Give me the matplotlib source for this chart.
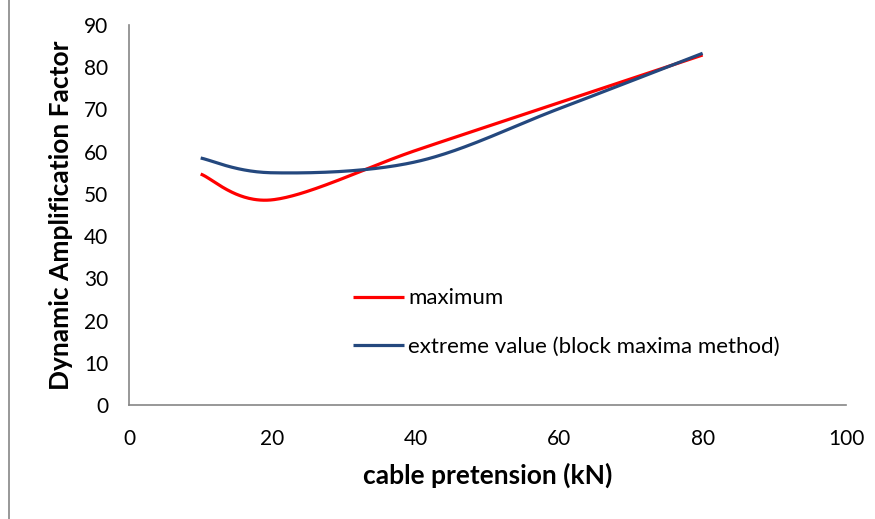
#!/usr/bin/env python3
'''Dynamic amplification factor vs cable pretension'''
import numpy as np
import matplotlib
matplotlib.use('Agg')
import matplotlib.pyplot as plt

pretension = [10, 20, 40, 60, 80]
maximum = [54.7, 48.6, 60.3, 71.6, 82.9]
extreme = [58.5, 55.0, 57.6, 70.2, 83.3]
labels = ['maximum', 'extreme value (block maxima method)']
colors = ['#ff0000', '#24487e']


def smooth(x, y, n=60):
    '''Excel-like smoothed line (Catmull-Rom bezier through the points)'''
    pts = np.column_stack([x, y]).astype(float)
    ext = np.vstack([pts[0], pts, pts[-1]])
    out = []
    t = np.linspace(0, 1, n)[:, None]
    for i in range(1, len(ext) - 2):
        p0, p3 = ext[i], ext[i + 1]
        p1 = p0 + (ext[i + 1] - ext[i - 1]) / 6
        p2 = p3 - (ext[i + 2] - ext[i]) / 6
        seg = ((1 - t) ** 3) * p0 + 3 * ((1 - t) ** 2) * t * p1 \
            + 3 * (1 - t) * t ** 2 * p2 + t ** 3 * p3
        out.append(seg if i == 1 else seg[1:])
    out = np.vstack(out)
    return out[:, 0], out[:, 1]


plt.rcParams['font.family'] = ['Lato', 'DejaVu Sans']
fig = plt.figure(figsize=(8.75, 5.19), dpi=100)
ax = fig.add_axes([0.1474, 0.2197, 0.8195, 0.7321])

for ys, lab, col in zip([maximum, extreme], labels, colors):
    sx, sy = smooth(pretension, ys)
    ax.plot(sx, sy, color=col, lw=2.3, label=lab, solid_capstyle='butt')

ax.set_xlim(0, 100)
ax.set_ylim(0, 90)
ax.set_xticks(range(0, 101, 20))
ax.set_yticks(range(0, 91, 10))
ax.tick_params(length=0, labelsize=15)
ax.tick_params(axis='x', pad=17)
ax.tick_params(axis='y', pad=15)
for side in ['top', 'right']:
    ax.spines[side].set_visible(False)
for side in ['left', 'bottom']:
    ax.spines[side].set_color('#868686')
    ax.spines[side].set_linewidth(1.2)

ax.set_xlabel('cable pretension (kN)', fontsize=19, fontweight='bold', labelpad=10)
ax.set_ylabel('Dynamic Amplification Factor', fontsize=19, fontweight='bold', labelpad=8)

ax.legend(loc='upper left', bbox_to_anchor=(0.312, 0.307), frameon=False,
          fontsize=16, handlelength=2.3, handletextpad=0.2, labelspacing=1.3,
          borderpad=0, borderaxespad=0)

fig.add_artist(plt.Line2D([0.0103, 0.0103], [0.0, 1.0], color='#868686', lw=1.2))

plt.savefig('out.png', dpi=100)
